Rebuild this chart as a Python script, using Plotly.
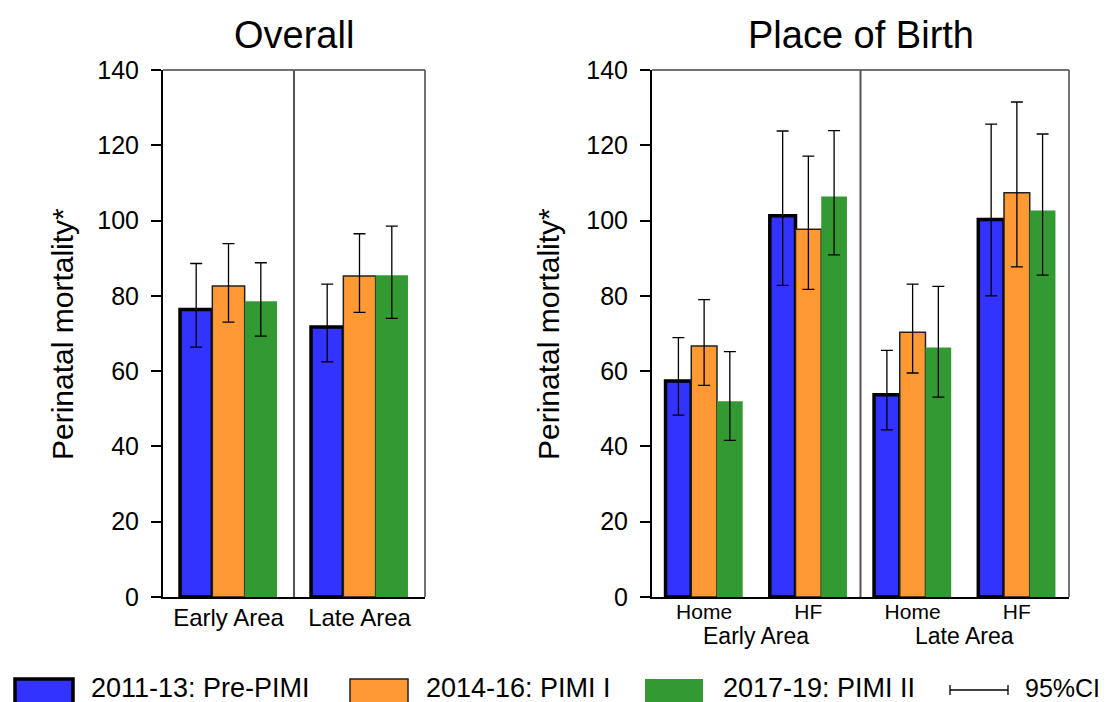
import plotly.graph_objects as go

# ---------------- data ----------------
series_names = ["2011-13: Pre-PIMI", "2014-16: PIMI I", "2017-19: PIMI II"]

overall_categories = ["Early Area", "Late Area"]
overall_values = [[76.4, 71.7], [82.6, 85.3], [78.6, 85.5]]
overall_lower = [[66.4, 62.5], [73.0, 75.6], [69.3, 74.0]]
overall_upper = [[88.6, 83.1], [93.9, 96.5], [88.8, 98.5]]

pob_area = ["Early Area", "Early Area", "Late Area", "Late Area"]
pob_place = ["Home", "HF", "Home", "HF"]
pob_values = [[57.4, 101.3, 53.7, 100.3],
              [66.7, 97.7, 70.3, 107.4],
              [52.0, 106.4, 66.3, 102.7]]
pob_lower = [[48.3, 82.8, 44.4, 80.0],
             [56.2, 81.7, 59.5, 87.7],
             [41.6, 90.9, 53.1, 85.5]]
pob_upper = [[68.9, 123.8, 65.5, 125.6],
             [79.0, 117.1, 83.1, 131.5],
             [65.2, 123.9, 82.5, 123.0]]

y_ticks = [0, 20, 40, 60, 80, 100, 120, 140]

# ---------------- styles ----------------
FONT = "Liberation Sans, Arial, sans-serif"
colors = ["#3333FF", "#FF9933", "#339933"]
line_widths = [3.5, 1.5, 0]
line_colors = ["#000000", "#222222", "#339933"]

W, H = 1107, 702
OFF = 8  # page body margin


def px_x(v):
    return (v - OFF) / W


def px_y(v):
    return 1 - (v - OFF) / H


# unique category ids for the place-of-birth panel
pob_ids = [f"{a} | {p}" for a, p in zip(pob_area, pob_place)]
areas = list(dict.fromkeys(pob_area))
area_centers = [sum(i for i, a in enumerate(pob_area) if a == ar) /
                pob_area.count(ar) for ar in areas]
area_divider = (area_centers[0] + area_centers[1]) / 2

fig = go.Figure()

for i, name in enumerate(series_names):
    fig.add_trace(go.Bar(
        x=overall_categories, y=overall_values[i], name=name,
        marker=dict(color=colors[i], line=dict(width=line_widths[i], color=line_colors[i])),
        error_y=dict(type="data", symmetric=False,
                     array=[u - v for u, v in zip(overall_upper[i], overall_values[i])],
                     arrayminus=[v - l for l, v in zip(overall_lower[i], overall_values[i])],
                     color="black", thickness=1.3, width=6),
        xaxis="x", yaxis="y", showlegend=False, offsetgroup=str(i)))

for i, name in enumerate(series_names):
    fig.add_trace(go.Bar(
        x=pob_ids, y=pob_values[i], name=name,
        marker=dict(color=colors[i], line=dict(width=line_widths[i], color=line_colors[i])),
        error_y=dict(type="data", symmetric=False,
                     array=[u - v for u, v in zip(pob_upper[i], pob_values[i])],
                     arrayminus=[v - l for l, v in zip(pob_lower[i], pob_values[i])],
                     color="black", thickness=1.3, width=6),
        xaxis="x2", yaxis="y2", showlegend=False, offsetgroup=str(i)))

ydom = [px_y(597), px_y(70)]
yaxis_common = dict(range=[0, 140], tickvals=y_ticks, ticks="outside", ticklen=10,
                    tickwidth=1.5, tickcolor="black", showline=True, linecolor="black",
                    linewidth=2, showgrid=False, zeroline=False, automargin=False,
                    tickfont=dict(family=FONT, size=25, color="black"),
                    ticklabelstandoff=7, domain=ydom)

fig.update_layout(
    width=W, height=H,
    margin=dict(l=0, r=0, t=0, b=0, autoexpand=False),
    paper_bgcolor="white", plot_bgcolor="white",
    barmode="group", bargap=0.26, bargroupgap=0,
    font=dict(family=FONT, color="black"),
    showlegend=False,
    xaxis=dict(domain=[px_x(163), px_x(425)], showline=True, linecolor="black", linewidth=2,
               ticks="", showgrid=False, automargin=False, ticklabelstandoff=-2,
               tickfont=dict(family=FONT, size=24, color="black"), anchor="y"),
    yaxis=dict(anchor="x", **yaxis_common),
    xaxis2=dict(domain=[px_x(652), px_x(1069)], showline=True, linecolor="black", linewidth=2,
                ticks="", showgrid=False, type="category",
                categoryorder="array", categoryarray=pob_ids,
                tickvals=pob_ids, ticktext=pob_place,
                automargin=False, ticklabelstandoff=-5,
                tickfont=dict(family=FONT, size=21, color="black"), anchor="y2"),
    yaxis2=dict(anchor="x2", **yaxis_common),
)

shapes = []
# frame (top and right) and dividers
for xr, yr, div in [("x", "y", 0.5), ("x2", "y2", area_divider)]:
    shapes.append(dict(type="line", xref=xr + " domain", yref=yr + " domain",
                       x0=0, x1=1, y0=1, y1=1, line=dict(color="#444444", width=1.5)))
    shapes.append(dict(type="line", xref=xr + " domain", yref=yr + " domain",
                       x0=1, x1=1, y0=0, y1=1, line=dict(color="#444444", width=1.5)))
    shapes.append(dict(type="line", xref=xr, yref=yr + " domain",
                       x0=div, x1=div, y0=0, y1=1, line=dict(color="#555555", width=2)))

# custom legend
legend_box_x = [15, 350, 645]
legend_text_x = [89, 424, 721]
box_top, box_bottom = 679, 712
text_y = 688
for i, name in enumerate(series_names):
    shapes.append(dict(type="rect", xref="paper", yref="paper",
                       x0=px_x(legend_box_x[i]), x1=px_x(legend_box_x[i] + 58),
                       y0=px_y(box_bottom), y1=px_y(box_top),
                       fillcolor=colors[i],
                       line=dict(color=line_colors[i], width=line_widths[i] if line_widths[i] else 0)))
# CI legend symbol
shapes.append(dict(type="line", xref="paper", yref="paper", x0=px_x(950), x1=px_x(1008),
                   y0=px_y(690), y1=px_y(690), line=dict(color="black", width=1.3)))
for xc in (950, 1008):
    shapes.append(dict(type="line", xref="paper", yref="paper", x0=px_x(xc), x1=px_x(xc),
                       y0=px_y(695), y1=px_y(685), line=dict(color="black", width=1.3)))

annotations = []
for i, name in enumerate(series_names):
    annotations.append(dict(text=name, xref="paper", yref="paper", x=px_x(legend_text_x[i]),
                            y=px_y(text_y), xanchor="left", yanchor="middle", showarrow=False,
                            font=dict(family=FONT, size=27, color="black")))
annotations.append(dict(text="95%CI", xref="paper", yref="paper", x=px_x(1023), y=px_y(text_y),
                        xanchor="left", yanchor="middle", showarrow=False,
                        font=dict(family=FONT, size=25, color="black")))

# second-level area labels under the place-of-birth panel
for ar, xc in zip(areas, area_centers):
    annotations.append(dict(text=ar, xref="x2", yref="paper", x=xc, y=px_y(636),
                            xanchor="center", yanchor="middle", showarrow=False,
                            font=dict(family=FONT, size=23, color="black")))

# panel titles
for txt, xc in [("Overall", 294), ("Place of Birth", 861)]:
    annotations.append(dict(text=txt, xref="paper", yref="paper", x=px_x(xc), y=px_y(35),
                            xanchor="center", yanchor="middle", showarrow=False,
                            font=dict(family=FONT, size=38, color="black")))
# y-axis titles
for xc in (62, 548):
    annotations.append(dict(text="Perinatal mortality*", xref="paper", yref="paper",
                            x=px_x(xc), y=px_y(334), xanchor="center", yanchor="middle",
                            textangle=-90, showarrow=False,
                            font=dict(family=FONT, size=30, color="black")))

fig.update_layout(shapes=shapes, annotations=annotations)
fig.write_html("out.html")
